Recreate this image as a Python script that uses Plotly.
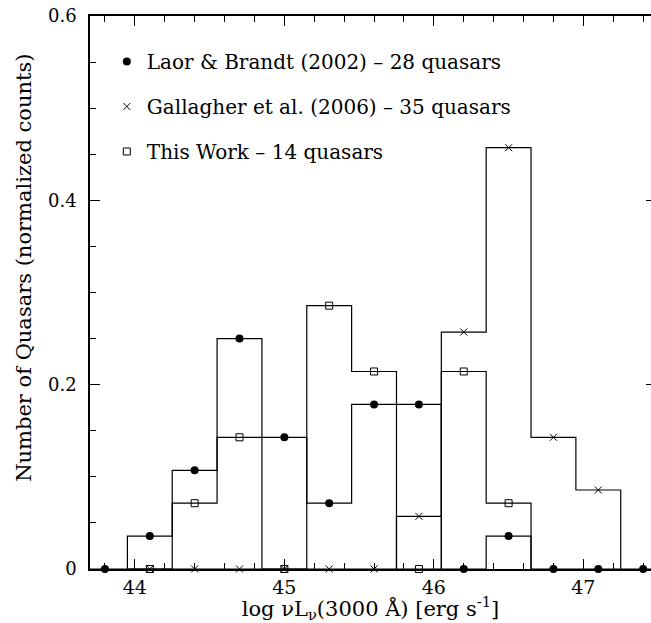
import numpy as np
import plotly.graph_objects as go

# ---- data ----
bin_width = 0.3
laor_x = [43.8, 44.1, 44.4, 44.7, 45.0, 45.3, 45.6, 45.9, 46.2, 46.5, 46.8, 47.1, 47.4]
laor_y = [0.0, 0.0357, 0.1071, 0.25, 0.1429, 0.0714, 0.1786, 0.1786, 0.0, 0.0357, 0.0, 0.0, 0.0]
gall_x = [44.1, 44.4, 44.7, 45.0, 45.3, 45.6, 45.9, 46.2, 46.5, 46.8, 47.1]
gall_y = [0.0, 0.0, 0.0, 0.0, 0.0, 0.0, 0.0571, 0.2571, 0.4571, 0.1429, 0.0857]
this_x = [44.1, 44.4, 44.7, 45.0, 45.3, 45.6, 45.9, 46.2, 46.5]
this_y = [0.0, 0.0714, 0.1429, 0.0, 0.2857, 0.2143, 0.0, 0.2143, 0.0714]
names = ["Laor & Brandt (2002) – 28 quasars",
         "Gallagher et al. (2006) – 35 quasars",
         "This Work – 14 quasars"]
x_ticks = [44, 45, 46, 47]
y_ticks = [0, 0.2, 0.4, 0.6]
y_ticktext = ["0", "0.2", "0.4", "0.6"]
x_title = "log νL<sub>ν</sub>(3000 Å) [erg s<sup>-1</sup>]"
y_title = "Number of Quasars (normalized counts)"

FONT = "DejaVu Serif"


def step_path(cx, cy, w):
    cx = np.asarray(cx, float)
    cy = np.asarray(cy, float)
    left = cx - w / 2
    right = cx + w / 2
    xs = np.column_stack([left, right]).ravel()
    ys = np.repeat(cy, 2)
    xs = np.concatenate([[left[0]], xs, [right[-1]]])
    ys = np.concatenate([[0.0], ys, [0.0]])
    return xs, ys


fig = go.Figure()
series = [
    (laor_x, laor_y, dict(symbol="circle", size=8, color="black")),
    (gall_x, gall_y, dict(symbol="x-thin", size=7, color="black",
                          line=dict(width=1, color="black"))),
    (this_x, this_y, dict(symbol="square-open", size=7, color="black",
                          line=dict(width=1, color="black"))),
]
for i, (sx, sy, mk) in enumerate(series):
    px, py = step_path(sx, sy, bin_width)
    fig.add_trace(go.Scatter(x=px, y=py, mode="lines",
                             line=dict(color="black", width=1.2),
                             showlegend=False, hoverinfo="skip",
                             cliponaxis=False))
for i, (sx, sy, mk) in enumerate(series):
    fig.add_trace(go.Scatter(x=sx, y=sy, mode="markers", marker=mk,
                             name=names[i], legendgroup=f"g{i}",
                             cliponaxis=False))

# invisible trace to hold right-side tick axis
fig.add_trace(go.Scatter(x=[laor_x[0]], y=[0], yaxis="y2", mode="markers",
                         marker=dict(opacity=0), showlegend=False,
                         hoverinfo="skip"))

x0, x1 = 43.7, 47.4525
fig.update_layout(
    width=651, height=623,
    margin=dict(l=90, r=0, t=16, b=54),
    paper_bgcolor="white", plot_bgcolor="white",
    font=dict(family=FONT, size=18, color="black"),
    showlegend=True,
    legend=dict(x=0.03, y=0.953, xanchor="left", yanchor="top",
                bgcolor="rgba(0,0,0,0)", font=dict(family=FONT, size=20),
                tracegroupgap=16, itemwidth=30),
    xaxis=dict(range=[x0, x1], tickvals=x_ticks, ticks="inside", ticklen=10,
               tickwidth=1.2, tickcolor="black", showline=True, linewidth=1.5,
               linecolor="black", mirror="ticks", showgrid=False, zeroline=False,
               tickfont=dict(family=FONT, size=19), ticklabelstandoff=0,
               minor=dict(dtick=0.2, tick0=44, ticks="inside", ticklen=6,
                          tickwidth=1.2, tickcolor="black", showgrid=False),
               title=dict(text=x_title, font=dict(family=FONT, size=21),
                          standoff=3)),
    yaxis=dict(range=[0, 0.6], tickvals=y_ticks, ticktext=y_ticktext,
               ticks="inside", ticklen=10, tickwidth=1.2, tickcolor="black",
               showline=True, linewidth=1.5, linecolor="black", mirror=False,
               showgrid=False, zeroline=False,
               tickfont=dict(family=FONT, size=18), ticklabelstandoff=8,
               minor=dict(dtick=0.05, ticks="inside", ticklen=6, tickwidth=1.2,
                          tickcolor="black", showgrid=False)),
    yaxis2=dict(range=[0, 0.6], overlaying="y", side="right", tickvals=y_ticks,
                ticks="inside", ticklen=5, tickwidth=1.2, tickcolor="black",
                showticklabels=False, showline=False, showgrid=False,
                zeroline=False),
    annotations=[dict(text=y_title, xref="paper", yref="paper",
                      x=-0.119, y=0.545, xanchor="center", yanchor="middle",
                      textangle=-90, showarrow=False,
                      font=dict(family=FONT, size=21))],
)
fig.write_html("out.html")
